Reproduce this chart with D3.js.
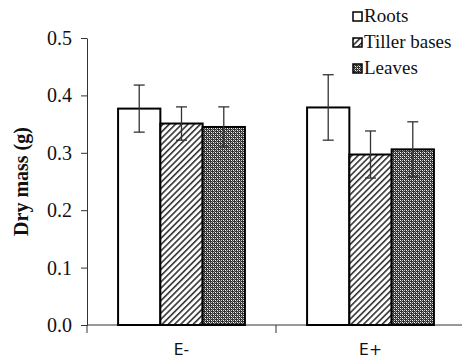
<!DOCTYPE html>
<html>
<head>
<meta charset="utf-8">
<script src="https://cdn.jsdelivr.net/npm/d3@7"></script>
<style>
  body { margin: 0; background: #fff; }
  svg { display: block; }
  .serif { font-family: "Liberation Serif", "Times New Roman", Times, "DejaVu Serif", serif; }
</style>
</head>
<body>
<div id="chart"></div>
<script>
const width = 462;
const height = 359;

const categories = ['E-', 'E+'];
const seriesNames = ['Roots', 'Tiller bases', 'Leaves'];
const roots = [0.377, 0.379];
const tillerBases = [0.351, 0.297];
const leaves = [0.345, 0.306];
const rootsErr = [0.041, 0.057];
const tillerErr = [0.029, 0.041];
const leavesErr = [0.035, 0.048];
const yTicks = [0, 0.1, 0.2, 0.3, 0.4, 0.5];

const values = [roots, tillerBases, leaves];
const errors = [rootsErr, tillerErr, leavesErr];

const margin = {left: 87, right: -3, top: 38, bottom: 34};
const x0 = d3.scaleBand().domain(categories).range([margin.left, width - margin.right]);
const x1 = d3.scaleBand().domain(seriesNames).range([0, x0.bandwidth()]).paddingOuter(0.735);
const y = d3.scaleLinear().domain([0, 0.5]).range([height - margin.bottom, margin.top]);

const svg = d3.select('#chart').append('svg')
  .attr('width', width)
  .attr('height', height);

const defs = svg.append('defs');
const hatch = defs.append('pattern')
  .attr('id', 'hatch')
  .attr('patternUnits', 'userSpaceOnUse')
  .attr('width', 4.4).attr('height', 4.4)
  .attr('patternTransform', 'rotate(45)');
hatch.append('rect').attr('width', 4.4).attr('height', 4.4).attr('fill', '#fff');
hatch.append('rect').attr('width', 1.6).attr('height', 4.4).attr('fill', '#333');

const dots = defs.append('pattern')
  .attr('id', 'dots')
  .attr('patternUnits', 'userSpaceOnUse')
  .attr('width', 4).attr('height', 4);
dots.append('rect').attr('width', 4).attr('height', 4).attr('fill', '#303030');
dots.append('rect').attr('x', 0).attr('y', 0).attr('width', 1).attr('height', 1).attr('fill', '#fff');
dots.append('rect').attr('x', 2).attr('y', 2).attr('width', 1).attr('height', 1).attr('fill', '#fff');
dots.append('rect').attr('x', 2).attr('y', 0).attr('width', 1).attr('height', 1).attr('fill', '#ccc');
dots.append('rect').attr('x', 0).attr('y', 2).attr('width', 1).attr('height', 1).attr('fill', '#ccc');
dots.append('rect').attr('x', 1).attr('y', 1).attr('width', 1).attr('height', 1).attr('fill', '#888');
dots.append('rect').attr('x', 3).attr('y', 3).attr('width', 1).attr('height', 1).attr('fill', '#888');

const fills = ['#fff', 'url(#hatch)', 'url(#dots)'];

// y axis
const yAxis = svg.append('g')
  .attr('transform', `translate(${margin.left},0)`)
  .call(d3.axisLeft(y).tickValues(yTicks).tickFormat(d3.format('.1f')).tickSize(6).tickSizeOuter(0).tickPadding(9));
yAxis.attr('font-family', null);
yAxis.select('.domain').attr('stroke', '#333');
yAxis.selectAll('.tick line').attr('stroke', '#333');
yAxis.selectAll('text')
  .attr('class', 'serif')
  .attr('font-size', 20)
  .attr('fill', '#111');

// x axis with ticks at category boundaries
const xAxis = svg.append('g')
  .attr('transform', `translate(0,${y(0)})`);
xAxis.append('line')
  .attr('x1', margin.left).attr('x2', width)
  .attr('stroke', '#333');
xAxis.selectAll('line.bound')
  .data(categories)
  .join('line')
  .attr('class', 'bound')
  .attr('x1', d => x0(d)).attr('x2', d => x0(d))
  .attr('y1', 0).attr('y2', 8)
  .attr('stroke', '#333');
xAxis.selectAll('text')
  .data(categories)
  .join('text')
  .attr('x', d => x0(d) + x0.bandwidth() / 2)
  .attr('y', 30)
  .attr('text-anchor', 'middle')
  .style('font-family', '"DejaVu Sans", Verdana, sans-serif')
  .style('font-size', '15.5px')
  .attr('fill', '#111')
  .text(d => d);

// bars
const groups = svg.append('g').selectAll('g')
  .data(categories)
  .join('g')
  .attr('transform', d => `translate(${x0(d)},0)`);

groups.selectAll('rect')
  .data((d, i) => seriesNames.map((s, j) => ({s, j, v: values[j][i], e: errors[j][i]})))
  .join('rect')
  .attr('x', d => x1(d.s))
  .attr('y', d => y(d.v))
  .attr('width', x1.bandwidth())
  .attr('height', d => y(0) - y(d.v))
  .attr('fill', d => fills[d.j])
  .attr('stroke', '#000')
  .attr('stroke-width', 2);

const errG = groups.selectAll('g.err')
  .data((d, i) => seriesNames.map((s, j) => ({s, j, v: values[j][i], e: errors[j][i]})))
  .join('g')
  .attr('class', 'err')
  .attr('stroke', '#333')
  .attr('stroke-width', 1.3);
errG.append('line')
  .attr('x1', d => x1(d.s) + x1.bandwidth() / 2)
  .attr('x2', d => x1(d.s) + x1.bandwidth() / 2)
  .attr('y1', d => y(d.v - d.e))
  .attr('y2', d => y(d.v + d.e));
errG.append('line')
  .attr('x1', d => x1(d.s) + x1.bandwidth() / 2 - 5.5)
  .attr('x2', d => x1(d.s) + x1.bandwidth() / 2 + 5.5)
  .attr('y1', d => y(d.v + d.e))
  .attr('y2', d => y(d.v + d.e));
errG.append('line')
  .attr('x1', d => x1(d.s) + x1.bandwidth() / 2 - 5.5)
  .attr('x2', d => x1(d.s) + x1.bandwidth() / 2 + 5.5)
  .attr('y1', d => y(d.v - d.e))
  .attr('y2', d => y(d.v - d.e));

// y title
svg.append('text')
  .attr('class', 'serif')
  .attr('transform', `translate(28,${(y(0.5) + y(0)) / 2}) rotate(-90)`)
  .attr('text-anchor', 'middle')
  .attr('font-weight', 'bold')
  .attr('font-size', 20)
  .attr('fill', '#111')
  .text('Dry mass (g)');

// legend
const legend = svg.append('g').attr('transform', 'translate(353,12)');
const item = legend.selectAll('g')
  .data(seriesNames)
  .join('g')
  .attr('transform', (d, i) => `translate(0,${i * 26})`);
item.append('rect')
  .attr('width', 9).attr('height', 9)
  .attr('fill', (d, i) => fills[i])
  .attr('stroke', '#000')
  .attr('stroke-width', 1.5);
item.append('text')
  .attr('class', 'serif')
  .attr('x', 11)
  .attr('y', 10)
  .attr('font-size', 19)
  .attr('fill', '#111')
  .text(d => d);
</script>
</body>
</html>
